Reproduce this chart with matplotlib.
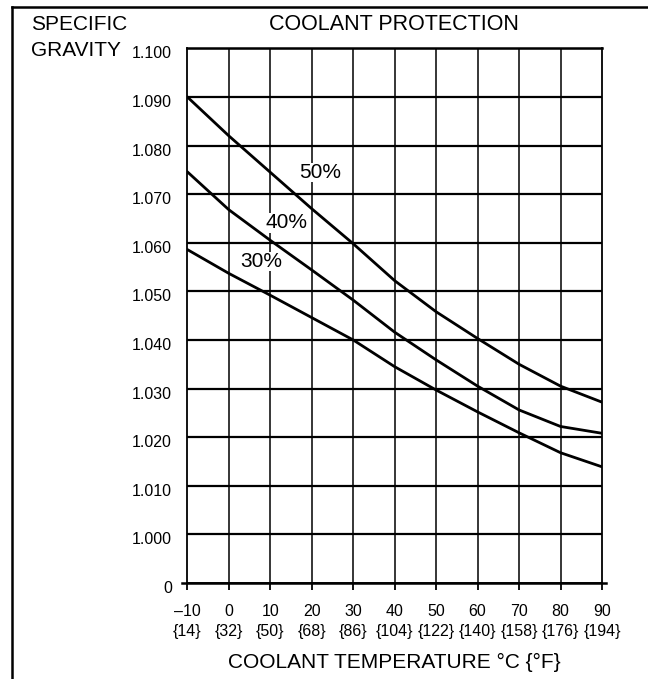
import numpy as np
import matplotlib
matplotlib.use("Agg")
import matplotlib.pyplot as plt
import matplotlib.transforms as mtransforms
from matplotlib.lines import Line2D

plt.rcParams['font.family'] = ['Liberation Sans', 'DejaVu Sans']

# coolant temperature, degC and degF
temp_c = [-10, 0, 10, 20, 30, 40, 50, 60, 70, 80, 90]
temp_f = [14, 32, 50, 68, 86, 104, 122, 140, 158, 176, 194]

# specific gravity at every 10 degC
sg_50 = [1.0900, 1.0820, 1.0745, 1.0670, 1.0598, 1.0522, 1.0458, 1.0403, 1.0350, 1.0305, 1.0272]
sg_40 = [1.0746, 1.0668, 1.0605, 1.0544, 1.0482, 1.0416, 1.0359, 1.0305, 1.0256, 1.0222, 1.0208]
sg_30 = [1.0586, 1.0537, 1.0492, 1.0446, 1.0400, 1.0345, 1.0297, 1.0252, 1.0209, 1.0168, 1.0139]

# y levels; the bottom line is the broken-axis "0"
sg_levels = [0.990, 1.000, 1.010, 1.020, 1.030, 1.040, 1.050, 1.060, 1.070, 1.080, 1.090, 1.100]
sg_labels = ["0", "1.000", "1.010", "1.020", "1.030", "1.040", "1.050",
             "1.060", "1.070", "1.080", "1.090", "1.100"]

curve_labels = [("50%", 22.0, 1.0745), ("40%", 14.0, 1.0641), ("30%", 7.9, 1.0561)]

W, H = 648, 679
fig = plt.figure(figsize=(W / 100, H / 100), dpi=100)
ax = fig.add_axes([187.3 / W, 1 - 583 / H, (602 - 187.3) / W, (583 - 48.3) / H])

ax.set_xlim(temp_c[0], temp_c[-1])
ax.set_ylim(sg_levels[0], sg_levels[-1])

# grid
for y in sg_levels[1:]:
    ax.axhline(y, color='black', lw=1.6, zorder=1)
for x in temp_c[1:-1]:
    ax.axvline(x, color='black', lw=1.1, zorder=1)

for s in ax.spines.values():
    s.set_linewidth(1.3)
ax.spines['top'].set_linewidth(1.8)

# bottom "0" line sticks out on both sides
ax.plot([-0.012, 1.01], [0, 0], transform=ax.transAxes, color='black',
        lw=1.8, clip_on=False, zorder=3)

for vals in (sg_50, sg_40, sg_30):
    ax.plot(temp_c, vals, color='black', lw=2.0, solid_capstyle='round',
            solid_joinstyle='round', zorder=4)

for txt, x, y in curve_labels:
    ax.text(x, y, txt, fontsize=15, ha='center', va='center', zorder=5,
            bbox=dict(facecolor='white', edgecolor='none', pad=0.2))

ax.set_xticks(temp_c)
ax.set_xticklabels([f"{'\u2013' if c < 0 else ''}{abs(c)}\n{{{f}}}" for c, f in zip(temp_c, temp_f)],
                   fontsize=11.5, linespacing=1.4)
ax.tick_params(axis='x', direction='out', length=5, width=1.3, pad=10)
ax.set_yticks(sg_levels)
ax.set_yticklabels(sg_labels, fontsize=11.5)
ax.tick_params(axis='y', length=0, pad=11)
down = mtransforms.ScaledTranslation(0, -4 / 100, fig.dpi_scale_trans)
for lab in ax.get_yticklabels():
    lab.set_transform(lab.get_transform() + down)

fig.text(394.6 / W, 1 - 662 / H, "COOLANT TEMPERATURE \u00b0C {\u00b0F}",
         fontsize=15, ha='center', va='center')
fig.text(394 / W, 1 - 25 / H, "COOLANT PROTECTION", fontsize=15.5, ha='center', va='center')
fig.text(31 / W, 1 - 25 / H, "SPECIFIC", fontsize=15, ha='left', va='center')
fig.text(31 / W, 1 - 50 / H, "GRAVITY", fontsize=15, ha='left', va='center')

# page frame: top and left rule
fig.add_artist(Line2D([11.5 / W, 11.5 / W], [0, 1 - 7 / H], transform=fig.transFigure,
                      color='black', lw=1.8))
fig.add_artist(Line2D([11.5 / W, 1], [1 - 7 / H, 1 - 7 / H], transform=fig.transFigure,
                      color='black', lw=1.8))

fig.savefig("out.png", dpi=100, facecolor='white')
